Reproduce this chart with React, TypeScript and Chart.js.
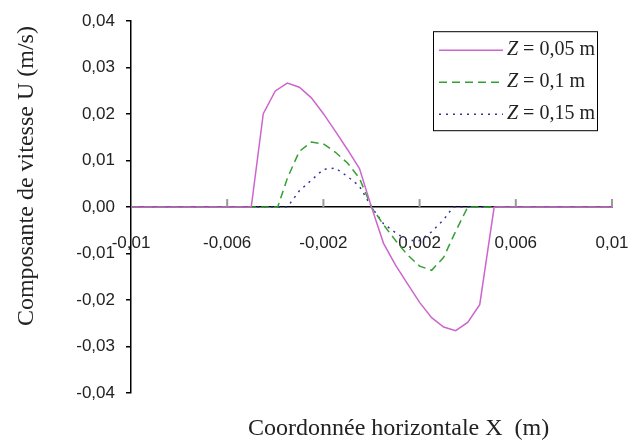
import React, { useEffect, useRef } from 'react';
import { Chart, registerables } from 'chart.js';

Chart.register(...registerables);

// Axis ticks
const xTickValues = [-0.01, -0.006, -0.002, 0.002, 0.006, 0.01];
const xTickLabels = ['-0,01', '-0,006', '-0,002', '0,002', '0,006', '0,01'];
const yTickValues = [-0.04, -0.03, -0.02, -0.01, 0, 0.01, 0.02, 0.03, 0.04];
const yTickLabels = ['-0,04', '-0,03', '-0,02', '-0,01', '0,00', '0,01', '0,02', '0,03', '0,04'];

// Series labels
const seriesLabels = ['Z = 0,05 m', 'Z = 0,1 m', 'Z = 0,15 m'];

// Z = 0,05 m
const x005 = [-0.01, -0.005, -0.0045, -0.004, -0.0035, -0.003, -0.0025, -0.002, -0.0015, -0.001, -0.0005, 0, 0.0005, 0.001, 0.0015, 0.002, 0.0025, 0.003, 0.0035, 0.004, 0.0045, 0.0051, 0.01];
const u005 = [0, 0, 0.0201, 0.025, 0.0267, 0.0258, 0.0235, 0.0201, 0.0163, 0.0124, 0.0083, 0, -0.0078, -0.0125, -0.0165, -0.0205, -0.0238, -0.0258, -0.0266, -0.0248, -0.021, 0, 0];

// Z = 0,1 m
const x01 = [-0.01, -0.0039, -0.0035, -0.003, -0.0025, -0.002, -0.0015, -0.001, -0.0005, 0, 0.0005, 0.001, 0.0015, 0.002, 0.0025, 0.003, 0.0035, 0.004, 0.01];
const u01 = [0, 0, 0.0062, 0.012, 0.014, 0.0136, 0.0118, 0.0095, 0.0062, 0, -0.0038, -0.0072, -0.0103, -0.0127, -0.0136, -0.0108, -0.0052, 0, 0];

// Z = 0,15 m
const x015 = [-0.01, -0.0035, -0.003, -0.0025, -0.002, -0.0015, -0.001, -0.0005, 0, 0.0005, 0.001, 0.0015, 0.002, 0.0025, 0.003, 0.0034, 0.01];
const u015 = [0, 0, 0.0035, 0.0058, 0.0081, 0.0084, 0.0066, 0.0045, 0, -0.0036, -0.0055, -0.0072, -0.0072, -0.0053, -0.0027, 0, 0];

const yTitle = 'Composante de vitesse U (m/s)';
const xTitle = 'Coordonnée horizontale X  (m)';

const colors = ['#cc66cc', '#33a033', '#333399'];
const dashes: number[][] = [[], [8, 5], [2, 5]];

const toPoints = (xs: number[], ys: number[]) => xs.map((x, i) => ({ x, y: ys[i] }));

const decorPlugin = {
  id: 'decor',
  beforeDatasetsDraw(chart: any) {
    const { ctx, scales } = chart;
    const xs = scales.x;
    const ys = scales.y;
    const y0 = ys.getPixelForValue(0);
    ctx.save();
    ctx.strokeStyle = '#999999';
    ctx.lineWidth = 2;
    xs.ticks.forEach((t: any) => {
      if (t.value <= xs.min) return;
      const px = xs.getPixelForValue(t.value);
      ctx.beginPath();
      ctx.moveTo(px, y0);
      ctx.lineTo(px, y0 - 8);
      ctx.stroke();
    });
    ctx.restore();
  },
  afterDraw(chart: any) {
    const { ctx, chartArea } = chart;
    ctx.save();
    // Y title
    ctx.fillStyle = '#222';
    ctx.font = '24px "Liberation Serif"';
    ctx.translate(chartArea.left - 98, (chartArea.top + chartArea.bottom) / 2 - 31);
    ctx.rotate(-Math.PI / 2);
    ctx.textAlign = 'center';
    ctx.textBaseline = 'alphabetic';
    ctx.fillText(yTitle, 0, 0);
    ctx.restore();

    // X title
    ctx.save();
    ctx.fillStyle = '#222';
    ctx.font = '24px "Liberation Serif"';
    ctx.textAlign = 'left';
    ctx.textBaseline = 'alphabetic';
    ctx.fillText(xTitle, chartArea.left + 117, chartArea.bottom + 42);
    ctx.restore();

    // Legend
    const w = 164, h = 99;
    const left = chartArea.right - 179;
    const top = chartArea.top + 10;
    ctx.save();
    ctx.fillStyle = '#ffffff';
    ctx.fillRect(left, top, w, h);
    ctx.strokeStyle = '#000';
    ctx.lineWidth = 1;
    ctx.strokeRect(left + 0.5, top + 0.5, w, h);
    chart.data.datasets.forEach((ds: any, i: number) => {
      const ry = top + 19 + i * 32;
      ctx.save();
      ctx.strokeStyle = ds.borderColor;
      ctx.lineWidth = ds.borderWidth;
      ctx.setLineDash(ds.borderDash || []);
      ctx.beginPath();
      ctx.moveTo(left + 6, ry);
      ctx.lineTo(left + 70, ry);
      ctx.stroke();
      ctx.restore();
      const label: string = ds.label;
      const first = label.charAt(0);
      const rest = label.slice(1);
      ctx.fillStyle = '#222';
      ctx.textBaseline = 'middle';
      ctx.textAlign = 'left';
      ctx.font = 'italic 20px "Liberation Serif"';
      ctx.fillText(first, left + 74, ry);
      const fw = ctx.measureText(first).width;
      ctx.font = '20px "Liberation Serif"';
      ctx.fillText(rest, left + 74 + fw, ry);
    });
    ctx.restore();
  },
};

export default function App() {
  const canvasRef = useRef<HTMLCanvasElement | null>(null);

  useEffect(() => {
    if (!canvasRef.current) return;
    const series = [toPoints(x005, u005), toPoints(x01, u01), toPoints(x015, u015)];
    const chart = new Chart(canvasRef.current, {
      type: 'line',
      data: {
        datasets: series.map((data, i) => ({
          label: seriesLabels[i],
          data,
          borderColor: colors[i],
          backgroundColor: colors[i],
          borderWidth: 1.5,
          borderDash: dashes[i],
          pointRadius: 0,
          tension: 0,
          fill: false,
        })),
      },
      options: {
        animation: false,
        responsive: false,
        events: [],
        layout: { padding: { top: 19, right: 18, bottom: 48, left: 0 } },
        plugins: {
          legend: { display: false },
          tooltip: { enabled: false },
          title: { display: false },
        },
        scales: {
          x: {
            type: 'linear',
            min: -0.01,
            max: 0.01,
            position: { y: 0 } as any,
            afterBuildTicks: (s: any) => {
              s.ticks = xTickValues.map((v) => ({ value: v }));
            },
            afterFit: (s: any) => {
              s.paddingLeft = 0;
              s.paddingRight = 0;
            },
            grid: { drawOnChartArea: false, drawTicks: false },
            border: { display: true, color: '#000', width: 1.5 },
            ticks: {
              autoSkip: false,
              maxRotation: 0,
              minRotation: 0,
              padding: 26,
              color: '#222',
              font: { family: '"Liberation Sans"', size: 17 },
              callback: (v: any) => {
                const idx = xTickValues.findIndex((t) => Math.abs(t - Number(v)) < 1e-9);
                return idx >= 0 ? xTickLabels[idx] : '';
              },
            },
          },
          y: {
            type: 'linear',
            min: -0.04,
            max: 0.04,
            position: 'left',
            afterBuildTicks: (s: any) => {
              s.ticks = yTickValues.map((v) => ({ value: v }));
            },
            afterFit: (s: any) => {
              s.width = 131;
            },
            grid: { drawOnChartArea: false, drawTicks: true, tickLength: 5, color: '#000', lineWidth: 1.5 },
            border: { display: true, color: '#000', width: 1.5 },
            ticks: {
              padding: 11,
              color: '#222',
              font: { family: '"Liberation Sans"', size: 17 },
              callback: (v: any) => {
                const idx = yTickValues.findIndex((t) => Math.abs(t - Number(v)) < 1e-9);
                return idx >= 0 ? yTickLabels[idx] : '';
              },
            },
          },
        },
      },
      plugins: [decorPlugin],
    });
    return () => chart.destroy();
  }, []);

  return (
    <div style={{ position: 'fixed', left: 0, top: 0, width: 630, height: 441, background: '#fff' }}>
      <canvas ref={canvasRef} width={630} height={441} style={{ display: 'block', width: 630, height: 441 }} />
    </div>
  );
}
